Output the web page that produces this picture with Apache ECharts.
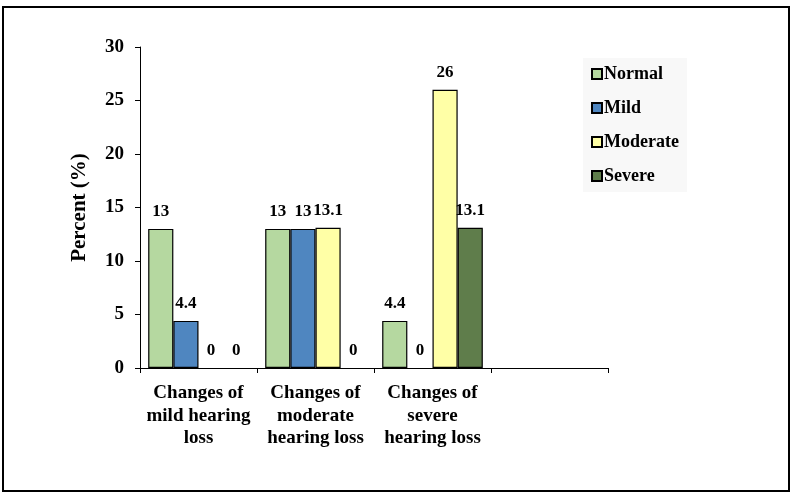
<!DOCTYPE html>
<html>
<head>
<meta charset="utf-8">
<script src="https://cdn.jsdelivr.net/npm/echarts@6/dist/echarts.min.js"></script>
<style>
  html, body { margin: 0; padding: 0; background: #fff; }
  #main { width: 795px; height: 494px; }
</style>
</head>
<body>
<div id="main"></div>
<script>
var categories = ['Changes of\nmild hearing\nloss', 'Changes of\nmoderate\nhearing loss', 'Changes of\nsevere\nhearing loss', ''];
var seriesNames = ['Normal', 'Mild', 'Moderate', 'Severe'];
var normalData = [13, 13, 4.4, null];
var mildData = [4.4, 13, 0, null];
var moderateData = [0, 13.1, 26, null];
var severeData = [0, 0, 13.1, null];
var colors = ['#b5d8a0', '#4f86c0', '#ffffa6', '#5f7d4b'];

var font = '"Liberation Serif", "Times New Roman", serif';
var chart = echarts.init(document.getElementById('main'));

function makeSeries(name, data, color) {
    // zero bars: keep the label, hide the flat outline
    var items = data.map(function (v) {
        return v === 0 ? { value: 0, itemStyle: { borderWidth: 0 } } : v;
    });
    return {
        name: name,
        type: 'bar',
        data: items,
        barGap: '0%',
        barCategoryGap: '14%',
        itemStyle: {
            color: color,
            borderColor: '#000',
            borderWidth: 1.2
        },
        label: {
            show: true,
            position: 'top',
            distance: 9,
            color: '#000',
            fontFamily: font,
            fontWeight: 'bold',
            fontSize: 17
        },
        animation: false
    };
}

var option = {
    backgroundColor: '#fff',
    graphic: [
        {
            type: 'rect',
            shape: { x: 3, y: 7, width: 786, height: 484 },
            style: { fill: 'none', stroke: '#000', lineWidth: 2 },
            silent: true
        }
    ],
    legend: {
        orient: 'vertical',
        left: 583,
        top: 58,
        padding: [7, 8, 7, 8],
        itemGap: 16,
        itemWidth: 10,
        itemHeight: 10,
        icon: 'rect',
        backgroundColor: '#f8f8f8',
        data: seriesNames,
        textStyle: {
            color: '#000',
            fontFamily: font,
            fontWeight: 'bold',
            fontSize: 18,
            padding: [0, 0, 0, -3]
        }
    },
    grid: {
        left: 140,
        right: 187,
        top: 47,
        bottom: 126,
        containLabel: false
    },
    xAxis: {
        type: 'category',
        data: categories,
        axisLine: { lineStyle: { color: '#000', width: 1 } },
        axisTick: { show: true, length: 5, lineStyle: { color: '#000' } },
        axisLabel: {
            interval: 0,
            margin: 14,
            color: '#000',
            fontFamily: font,
            fontWeight: 'bold',
            fontSize: 19,
            lineHeight: 22.5,
            align: 'center'
        }
    },
    yAxis: {
        type: 'value',
        min: 0,
        max: 30,
        interval: 5,
        name: 'Percent (%)',
        nameLocation: 'middle',
        nameGap: 50,
        nameTextStyle: {
            color: '#000',
            fontFamily: font,
            fontWeight: 'bold',
            fontSize: 21
        },
        axisLine: { show: true, lineStyle: { color: '#000', width: 1 } },
        axisTick: { show: true, length: 5, lineStyle: { color: '#000' } },
        splitLine: { show: false },
        axisLabel: {
            margin: 16,
            color: '#000',
            fontFamily: font,
            fontWeight: 'bold',
            fontSize: 19
        }
    },
    series: [
        makeSeries(seriesNames[0], normalData, colors[0]),
        makeSeries(seriesNames[1], mildData, colors[1]),
        makeSeries(seriesNames[2], moderateData, colors[2]),
        makeSeries(seriesNames[3], severeData, colors[3])
    ]
};

chart.setOption(option);
</script>
</body>
</html>
